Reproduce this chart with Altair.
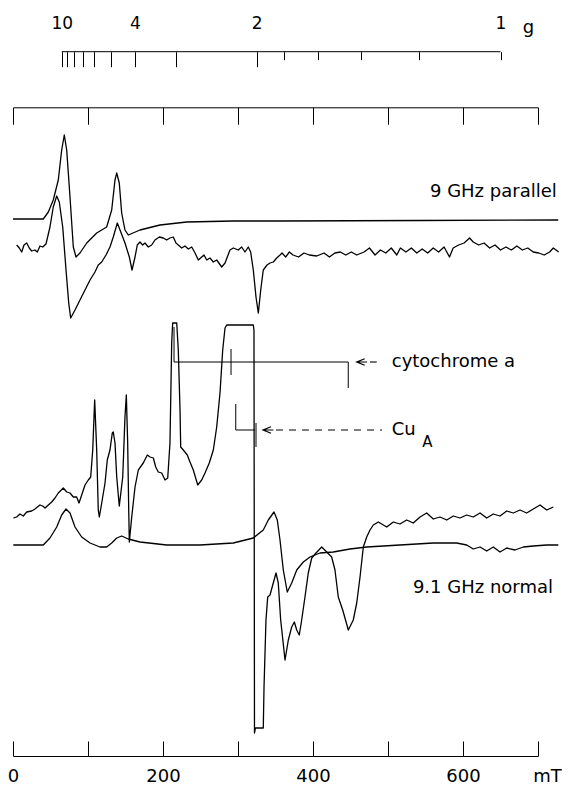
import altair as alt
import pandas as pd

# ---------------- data (field in mT, intensity in arbitrary units) ----------------
PAR_SIM_B = [0, 40.4, 47.1, 53.7, 60.4, 64.9, 68.4, 71.6, 76, 80.4, 84, 89.3, 98.3, 111.6, 124.9,
             131.6, 136, 138.3, 141.7, 144.9, 149.3, 153.7, 169.3, 196, 231.6, 293.7, 356, 542.7, 727]
PAR_SIM_I = [537, 537, 544, 556, 576, 606, 621, 606, 559, 509, 499, 503, 513, 523, 529,
             546, 576, 583, 573, 543, 526, 521, 526, 531, 534, 535, 535, 535.5, 536]

PAR_EXP_B = [4.9, 8.4, 11.6, 14.7, 18.3, 21.7, 24.9, 29.3, 32.4, 36, 39.6, 44, 49.3, 53.7, 58.3, 61.7,
             66.3, 70.7, 74.3, 76.9, 82.7, 89.3, 96, 102.7, 109.3, 113.7, 118.3, 124, 129.3, 133.7,
             139.1, 142.7, 149.3, 155.1, 158.7, 162.7, 165.7, 169.3, 172.9, 176, 180.4, 184.9, 189.3,
             195.1, 200.4, 204.9, 209.3, 213.7, 217.3, 220.4, 224.9, 229.3, 233.7, 238.3, 242.7, 247.1,
             251.6, 254.7, 258.3, 262.7, 267.1, 271.6, 278.3, 282.7, 289.3, 293.7, 300.4, 304.9, 309.3,
             313.7, 316.9, 320.4, 324, 327.1, 330.3, 333.7, 338.7, 342.7, 347.1, 351.6, 356, 358.7,
             363.6, 368.5, 373.3, 380.7, 388, 395.2, 404.9, 414.7, 421.9, 429.2, 436.4, 443.7, 451.1,
             458.3, 468, 475.3, 482.7, 489.9, 497.1, 504.4, 511.7, 516.5, 523.9, 531.1, 538.4, 545.6,
             552.9, 560.3, 567.5, 574.8, 582, 586.9, 594.1, 601.5, 608.8, 613.6, 620.9, 628.1, 635.5,
             642.7, 650, 657.3, 664.5, 671.9, 679.1, 686.4, 693.7, 700.9, 708.3, 715.5, 720.4, 727.6]
PAR_EXP_I = [511, 508, 504, 511, 513, 508, 505, 506, 504, 510, 509, 512, 529, 549, 560, 554,
             529, 486, 453, 438, 446, 456, 466, 476, 484, 491, 494, 501, 509, 519,
             533, 526, 513, 499, 486, 499, 511, 514, 511, 513, 509, 511, 516,
             519, 518, 516, 518, 519, 513, 511, 508, 510, 507, 509, 503, 496,
             499, 501, 496, 498, 494, 496, 489, 493, 506, 508, 506, 509, 504,
             509, 504, 486, 459, 443, 466, 486, 491, 493, 494, 498, 501, 503,
             499, 504, 501, 499, 503, 501, 500, 503, 499, 503, 504, 501, 504,
             501, 504, 508, 501, 506, 503, 508, 501, 508, 504, 508, 503, 507,
             503, 508, 504, 509, 499, 508, 511, 513, 518, 514, 511, 513, 508,
             511, 506, 509, 506, 510, 506, 508, 504, 503, 501, 504, 508, 504]

NOR_EXP_B = [0.4, 4.9, 9.3, 13.7, 18.3, 24.9, 29.3, 32.4, 36, 39.6, 42.7, 47.1, 51.6, 56, 60.4, 67.1,
             71.6, 76, 80.4, 84.9, 88, 91.6, 96, 100.4, 103.6, 106.3, 108.9, 111.6, 113.7, 115.1,
             118.3, 122.7, 125.7, 129.3, 132.4, 133.7, 136, 138.3, 141.7, 146.3, 149.3, 151.1, 152.9,
             154.3, 155.1, 158.3, 162.7, 167.1, 173.7, 179.1, 182.7, 187.1, 190.3, 193.7, 198.3, 202.7,
             206.3, 209.3, 211.6, 212.9, 218.3, 220.4, 222.7, 223.6, 227.1, 232.4, 236, 240.4, 246.3,
             251.6, 256, 261.7, 267.1, 271.6, 276, 279.6, 282.7, 284.9, 320.4, 321.3, 322, 323.3, 333.7,
             334.7, 337.3, 339.6, 342.7, 346.3, 350.7, 353.7, 356.9, 362.7, 367.1, 371.6, 375.1, 378.3,
             381.7, 384.9, 389.3, 393.7, 398.3, 404, 411.6, 418.3, 424.9, 429.3, 433.7, 439.6, 447.1,
             453.7, 458.3, 462.7, 467.1, 471.6, 476, 480.4, 487.1, 489.3, 498.3, 507.1, 516, 524.9,
             533.7, 542.7, 551.6, 560.4, 569.3, 578.3, 587.1, 596, 604.9, 613.7, 622.7, 631.6, 640.4,
             649.3, 658.3, 667.1, 676, 684.9, 693.7, 702.7, 711.6, 720.4]
NOR_EXP_I = [238, 239, 242, 240, 244, 245, 247, 249, 251, 250, 248, 251, 254, 258, 263, 268,
             264, 263, 259, 259, 253, 261, 271, 276, 279, 306, 356, 306, 246, 239,
             253, 273, 296, 306, 323, 324, 313, 279, 250, 279, 339, 361, 313,
             246, 214, 239, 269, 286, 293, 301, 299, 298, 289, 284, 283, 276,
             278, 313, 413, 433, 433, 406, 346, 309, 306, 301, 294, 286, 271,
             276, 283, 293, 306, 329, 363, 406, 428, 431, 431, 426, 23, 28, 28,
             69, 136, 159, 161, 171, 183, 173, 136, 96, 116, 129, 134, 126,
             121, 136, 159, 183, 198, 203, 209, 204, 199, 186, 159, 146, 126,
             136, 153, 179, 209, 219, 226, 231, 234, 233, 229, 234, 232, 236,
             233, 239, 243, 237, 239, 236, 240, 238, 241, 239, 243, 238, 242,
             240, 245, 243, 246, 243, 247, 251, 246, 249]

NOR_SIM_B = [0.4, 40.4, 49.3, 58.3, 64.9, 70.7, 76, 82.7, 91.6, 102.7, 116, 124.9, 131.6, 138.3, 144.9,
             153.7, 169.3, 204.9, 249.3, 293.7, 320.4, 333.7, 340.4, 348, 352.4, 356, 360.4, 365.7,
             371.6, 378.3, 387.1, 396, 409.3, 427.1, 449.3, 471.6, 516, 560.4, 591.6, 604.9, 613.7,
             622.7, 631.6, 640.4, 649.3, 658.3, 669.3, 680.4, 693.7, 711.6, 727.1]
NOR_SIM_I = [211, 211, 218, 229, 241, 247, 243, 229, 219, 213, 209, 209, 213, 218, 220,
             217, 214, 211, 211, 213, 218, 226, 236, 244, 236, 216, 186, 164,
             173, 186, 194, 199, 203, 204, 207, 209, 211, 213, 213, 211, 207,
             209, 205, 209, 204, 208, 206, 209, 210, 211, 211]

# scales / tick values
GB = 650.0                      # g * B (mT) at 9.1 GHz
G_LONG = [10, 9, 8, 7, 6, 5, 4, 3, 2]
G_SHORT = [1.8, 1.6, 1.4, 1.2, 1.0]
G_LABELS = [10, 4, 2, 1]
FIELD_TICKS = [0, 100, 200, 300, 400, 500, 600, 700]
FIELD_LABELS = [0, 200, 400, 600]

# annotations
SPEC_LABELS = ["9 GHz parallel", "9.1 GHz normal"]
SPEC_LABEL_B = [725, 720]
SPEC_LABEL_I = [564, 168]
ANN_LABELS = ["cytochrome a", "Cu"]
ANN_LABEL_B = [505, 505]
ANN_LABEL_I = [394, 326]
SUB_LABELS = ["A"]
SUB_LABEL_B = [545.5]
SUB_LABEL_I = [314]
# bracket segments: (B1, B2, I1, I2)
BRK_B1 = [214.7, 214.7, 447, 290.7, 297, 297, 324]
BRK_B2 = [214.7, 447, 447, 290.7, 297, 322.7, 324]
BRK_I1 = [429, 394, 394, 407, 352, 326, 333]
BRK_I2 = [394, 394, 368, 381, 326, 326, 309]
ARROW_B = [463.6, 338.7]
ARROW_I = [394, 326]
DASH_B1 = [476, 350.7]
DASH_B2 = [485, 492]
DASH_I = [394, 326]

W, H = 525, 748
FONT = "DejaVu Sans"

xs = alt.Scale(domain=[0, 700], nice=False, zero=False)
ys = alt.Scale(domain=[0, H], nice=False, zero=False)

common = dict(grid=False, domainColor="black", tickColor="black", labelColor="black",
              labelFont=FONT, titleFont=FONT, titleColor="black", domainWidth=1, tickWidth=1)

ax_bottom_ticks = alt.Axis(orient="top", offset=-H, values=FIELD_TICKS, tickSize=15,
                           labels=False, domain=True, title=None, **common)
ax_bottom_labels = alt.Axis(orient="bottom", offset=0, values=FIELD_LABELS, ticks=False, tickSize=0,
                            domain=False, labelPadding=25, labelBaseline="alphabetic",
                            labelFontSize=18, labelFlush=False,
                            labelOverlap=False, title="mT", titleX=534, titleY=25,
                            titleBaseline="alphabetic", titleAlign="center", titleFontSize=18,
                            titleFontWeight="normal", **common)
ax_top = alt.Axis(orient="bottom", offset=-648.7, values=FIELD_TICKS, tickSize=17,
                  labels=False, domain=True, title=None, **common)
ax_g_long = alt.Axis(orient="bottom", offset=-704.3, values=[GB / g for g in G_LONG], tickSize=15,
                     labels=False, domain=False, title=None, **common)
ax_g_short = alt.Axis(orient="bottom", offset=-704.3, values=[GB / g for g in G_SHORT], tickSize=8,
                      labels=False, domain=False, title=None, **common)
ax_g_labels = alt.Axis(orient="top", offset=-43.7, values=[GB / g for g in G_LABELS], ticks=False,
                       tickSize=0, domain=False, labelExpr=f"format({GB}/datum.value, 'd')",
                       labelPadding=19, labelFontSize=17, labelFlush=False, labelOverlap=False,
                       title="g", titleX=515, titleY=-19, titleBaseline="alphabetic",
                       titleAlign="center", titleFontSize=18, titleFontWeight="normal", **common)


def spectrum(B, I, axis):
    df = pd.DataFrame({"B": B, "I": I, "i": list(range(len(B)))})
    return alt.Chart(df).mark_line(color="black", strokeWidth=1.3, strokeJoin="round").encode(
        x=alt.X("B:Q", scale=xs, axis=axis),
        y=alt.Y("I:Q", scale=ys, axis=None),
        order="i:Q",
    )


l_par_sim = spectrum(PAR_SIM_B, PAR_SIM_I, ax_bottom_ticks)
l_par_exp = spectrum(PAR_EXP_B, PAR_EXP_I, ax_bottom_labels)
l_nor_exp = spectrum(NOR_EXP_B, NOR_EXP_I, ax_top)
l_nor_sim = spectrum(NOR_SIM_B, NOR_SIM_I, ax_g_long)

brk = pd.DataFrame({"b1": BRK_B1, "b2": BRK_B2, "i1": BRK_I1, "i2": BRK_I2})
l_brk = alt.Chart(brk).mark_rule(color="black", strokeWidth=1).encode(
    x=alt.X("b1:Q", scale=xs, axis=ax_g_short), x2="b2:Q",
    y=alt.Y("i1:Q", scale=ys, axis=None), y2="i2:Q")

spec_lab = pd.DataFrame({"t": SPEC_LABELS, "B": SPEC_LABEL_B, "I": SPEC_LABEL_I})
l_spec_lab = alt.Chart(spec_lab).mark_text(align="right", baseline="middle", font=FONT,
                                            fontSize=18, color="black").encode(
    x=alt.X("B:Q", scale=xs, axis=ax_g_labels), y=alt.Y("I:Q", scale=ys, axis=None), text="t:N")

ann_lab = pd.DataFrame({"t": ANN_LABELS, "B": ANN_LABEL_B, "I": ANN_LABEL_I})
l_ann_lab = alt.Chart(ann_lab).mark_text(align="left", baseline="middle", font=FONT,
                                          fontSize=18, color="black").encode(
    x=alt.X("B:Q", scale=xs, axis=None), y=alt.Y("I:Q", scale=ys, axis=None), text="t:N")

sub_lab = pd.DataFrame({"t": SUB_LABELS, "B": SUB_LABEL_B, "I": SUB_LABEL_I})
l_sub_lab = alt.Chart(sub_lab).mark_text(align="left", baseline="middle", font=FONT,
                                          fontSize=15, color="black").encode(
    x=alt.X("B:Q", scale=xs, axis=None), y=alt.Y("I:Q", scale=ys, axis=None), text="t:N")

g_line = pd.DataFrame({"b1": [GB / max(G_LABELS)], "b2": [GB / min(G_LABELS)]})
l_g_line = alt.Chart(g_line).mark_rule(color="black", strokeWidth=1).encode(
    x=alt.X("b1:Q", scale=xs, axis=None), x2="b2:Q", y=alt.value(43.7))

arrows = pd.DataFrame({"B": ARROW_B, "I": ARROW_I})
l_arrows = alt.Chart(arrows).mark_point(
    shape="M1,-0.8L-1,0L1,0.8M-1,0L1.6,0", filled=False, size=64, color="black",
    strokeWidth=1.2, opacity=1).encode(
    x=alt.X("B:Q", scale=xs, axis=None), y=alt.Y("I:Q", scale=ys, axis=None))

dashes = pd.DataFrame({"b1": DASH_B1, "b2": DASH_B2, "I": DASH_I})
l_dashes = alt.Chart(dashes).mark_rule(color="black", strokeWidth=1.1, strokeDash=[7, 6]).encode(
    x=alt.X("b1:Q", scale=xs, axis=None), x2="b2:Q", y=alt.Y("I:Q", scale=ys, axis=None))

chart = alt.layer(
    l_par_sim, l_par_exp, l_nor_exp, l_nor_sim, l_brk, l_spec_lab, l_ann_lab, l_sub_lab,
    l_g_line, l_arrows, l_dashes,
).resolve_axis(x="independent").properties(
    width=W, height=H,
    padding={"left": 5, "top": 0, "right": 24, "bottom": 29},
    autosize=alt.AutoSizeParams(type="none"),
    background="white",
).configure_view(stroke=None)

chart.save("out.html", embed_options={"renderer": "svg", "actions": False})
